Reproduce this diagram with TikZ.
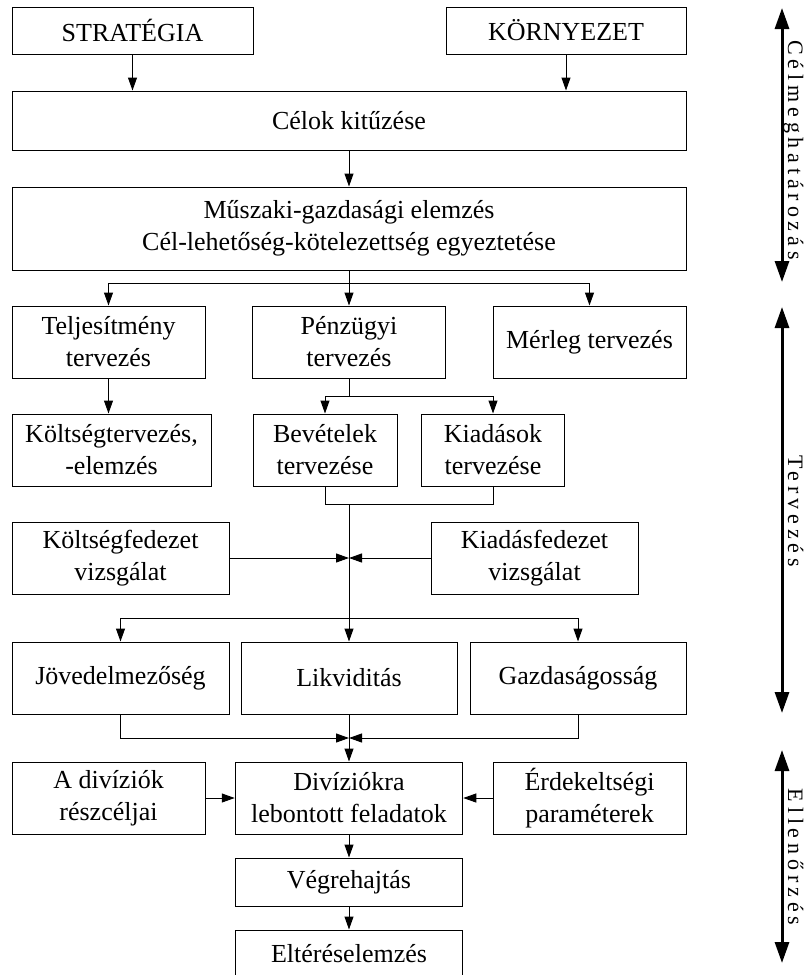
\documentclass[tikz,border=0pt]{standalone}
\usepackage{fontspec}
\setmainfont{Liberation Serif}
\newfontfamily\sidefont[LetterSpace=22]{Liberation Serif}
\usetikzlibrary{arrows.meta}
\begin{document}
\begin{tikzpicture}[x=1pt,y=-1pt,
  box/.style={draw, line width=1pt, inner sep=0pt, align=center, font=\fontsize{26}{32}\selectfont},
  arr/.style={line width=1pt, -{Triangle[length=13pt,width=9pt]}},
  ln/.style={line width=1pt},
  big/.style={line width=3pt, {Triangle[length=21pt,width=14pt]}-{Triangle[length=21pt,width=14pt]}},
  side/.style={rotate=-90, anchor=base, inner sep=0pt, font=\sidefont\fontsize{22}{26}\selectfont}]
\useasboundingbox (0,0) rectangle (805,975);
\clip (0,0) rectangle (805,975);
\fill[white] (0,0) rectangle (805,975);
% boxes
\node[box, minimum width=241pt, minimum height=47pt] (strat) at (132.5,30.5) {STRATÉGIA};
\node[box, minimum width=240pt, minimum height=47pt] (korny) at (566,30.5) {KÖRNYEZET};
\node[box, minimum width=674pt, minimum height=59pt] (celok) at (349,120.5) {Célok kitűzése};
\node[box, minimum width=674pt, minimum height=83pt] (musz) at (349,228.5) {Műszaki-gazdasági elemzés\\Cél-lehetőség-kötelezettség egyeztetése};
\node[box, minimum width=193pt, minimum height=72pt] (telj) at (108.5,342) {Teljesítmény\\tervezés};
\node[box, minimum width=193pt, minimum height=72pt] (penz) at (349,342) {Pénzügyi\\tervezés};
\node[box, minimum width=193pt, minimum height=72pt] (merleg) at (589.5,342) {Mérleg tervezés};
\node[box, minimum width=199pt, minimum height=72pt] (kolt) at (111.5,450) {Költségtervezés,\\-elemzés};
\node[box, minimum width=144pt, minimum height=72pt] (bev) at (325,450) {Bevételek\\tervezése};
\node[box, minimum width=143.5pt, minimum height=72pt] (kiad) at (493,450) {Kiadások\\tervezése};
\node[box, minimum width=217pt, minimum height=72pt] (koltf) at (120.5,558) {Költségfedezet\\vizsgálat};
\node[box, minimum width=207pt, minimum height=72pt] (kiadf) at (534.5,558) {Kiadásfedezet\\vizsgálat};
\node[box, minimum width=217pt, minimum height=72pt] (jov) at (120.5,678) {Jövedelmezőség};
\node[box, minimum width=216pt, minimum height=72pt] (likv) at (349,678) {Likviditás};
\node[box, minimum width=216pt, minimum height=72pt] (gazd) at (578,678) {Gazdaságosság};
\node[box, minimum width=193pt, minimum height=72pt] (adiv) at (108.5,798) {A divíziók\\részcéljai};
\node[box, minimum width=227.5pt, minimum height=72pt] (divk) at (349,798) {Divíziókra\\lebontott feladatok};
\node[box, minimum width=193pt, minimum height=72pt] (erdek) at (589.5,798) {Érdekeltségi\\paraméterek};
\node[box, minimum width=227.5pt, minimum height=48pt] (vegre) at (349,882) {Végrehajtás};
\node[box, minimum width=227.5pt, minimum height=47pt] (elter) at (349,953.5) {Eltéréselemzés};
% junctions
\coordinate (j1) at (349,283);
\coordinate (j2) at (349,396);
\coordinate (j3) at (349,504);
\coordinate (j4) at (349,558);
\coordinate (j5) at (349,618);
\coordinate (j6) at (349,738);
% connectors
\draw[arr] (strat.south) -- (strat.south |- celok.north);
\draw[arr] (korny.south) -- (korny.south |- celok.north);
\draw[arr] (celok.south) -- (musz.north);
\draw[ln] (musz.south) -- (j1);
\draw[arr] (j1) -- (penz.north);
\draw[arr] (j1) -| (telj.north);
\draw[arr] (j1) -| (merleg.north);
\draw[arr] (telj.south) -- (telj.south |- kolt.north);
\draw[ln] (penz.south) -- (j2);
\draw[arr] (j2) -| (bev.north);
\draw[arr] (j2) -| (kiad.north);
\draw[ln] (bev.south) |- (j3);
\draw[ln] (kiad.south) |- (j3);
\draw[ln] (j3) -- (j5);
\draw[arr] (koltf.east) -- (j4);
\draw[arr] (kiadf.west) -- (j4);
\draw[arr] (j5) -| (jov.north);
\draw[arr] (j5) -| (gazd.north);
\draw[arr] (j5) -- (likv.north);
\draw[arr] (jov.south) |- (j6);
\draw[arr] (gazd.south) |- (j6);
\draw[arr] (likv.south) -- (divk.north);
\draw[arr] (adiv.east) -- (divk.west);
\draw[arr] (erdek.west) -- (divk.east);
\draw[arr] (divk.south) -- (vegre.north);
\draw[arr] (vegre.south) -- (elter.north);
% side phase arrows
\coordinate (a1) at (782,8);
\coordinate (a2) at (782,282);
\coordinate (b1) at (782,307);
\coordinate (b2) at (782,713);
\coordinate (c1) at (782,750);
\coordinate (c2) at (782,963);
\draw[big] (a1) -- (a2);
\draw[big] (b1) -- (b2);
\draw[big] (c1) -- (c2);
\node[side] (ta) at (788,150) {Célmeghatározás};
\node[side] (tb) at (788,511) {Tervezés};
\node[side] (tc) at (788,857) {Ellenőrzés};
\end{tikzpicture}
\end{document}
